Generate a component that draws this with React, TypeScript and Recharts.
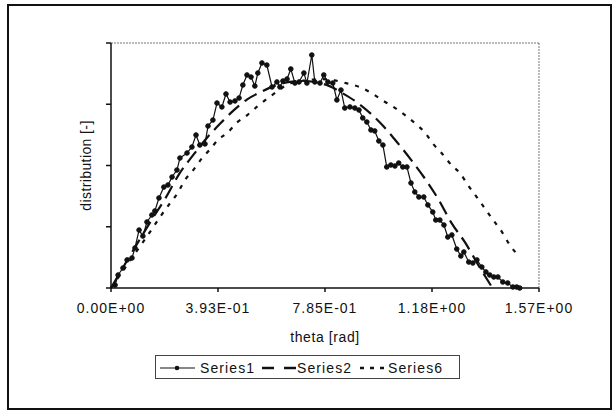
import React from 'react';
import {
  LineChart,
  Line,
  XAxis,
  YAxis,
  ReferenceLine,
} from 'recharts';

// measured angle (rad) and distribution for Series1
const series1Theta = [
  0.015, 0.026, 0.044, 0.059, 0.077, 0.088, 0.103, 0.117, 0.132, 0.15,
  0.161, 0.176, 0.194, 0.209, 0.224, 0.242, 0.253, 0.279, 0.297, 0.312,
  0.326, 0.345, 0.356, 0.374, 0.389, 0.407, 0.422, 0.437, 0.455, 0.47,
  0.484, 0.499, 0.514, 0.528, 0.539, 0.554, 0.572, 0.591, 0.609, 0.62,
  0.631, 0.646, 0.66, 0.675, 0.69, 0.708, 0.719, 0.737, 0.748, 0.767,
  0.781, 0.796, 0.814, 0.829, 0.844, 0.858, 0.877, 0.895, 0.91, 0.924,
  0.939, 0.954, 0.968, 0.983, 0.998, 1.012, 1.027, 1.042, 1.056, 1.071,
  1.086, 1.101, 1.115, 1.13, 1.148, 1.163, 1.181, 1.192, 1.207, 1.222,
  1.236, 1.251, 1.269, 1.284, 1.295, 1.313, 1.328, 1.343, 1.361, 1.376,
  1.39, 1.405, 1.42, 1.438, 1.456, 1.475, 1.489, 1.5,
];
const series1Values = [
  0.024, 0.106, 0.163, 0.229, 0.245, 0.327, 0.473, 0.424, 0.539, 0.596,
  0.629, 0.735, 0.824, 0.841, 0.906, 0.963, 1.061, 1.102, 1.151, 1.249,
  1.167, 1.176, 1.322, 1.371, 1.51, 1.478, 1.584, 1.518, 1.527, 1.551,
  1.657, 1.739, 1.722, 1.649, 1.755, 1.837, 1.82, 1.641, 1.682, 1.641,
  1.69, 1.706, 1.788, 1.673, 1.682, 1.755, 1.673, 1.902, 1.682, 1.673,
  1.739, 1.682, 1.673, 1.535, 1.616, 1.469, 1.478, 1.469, 1.453, 1.388,
  1.355, 1.29, 1.282, 1.2, 1.167, 0.988, 1.004, 0.996, 1.02, 0.988,
  0.988, 0.857, 0.784, 0.743, 0.743, 0.678, 0.62, 0.555, 0.555, 0.514,
  0.416, 0.433, 0.318, 0.261, 0.294, 0.212, 0.204, 0.229, 0.171, 0.131,
  0.106, 0.09, 0.09, 0.049, 0.041, 0.008, 0.008, 0,
];

// model curves
const series2Theta = [
  0, 0.05, 0.1, 0.15, 0.2, 0.25, 0.3, 0.35, 0.4, 0.45, 0.5, 0.55, 0.6, 0.65,
  0.7, 0.75, 0.8, 0.85, 0.9, 0.95, 1.0, 1.05, 1.1, 1.15, 1.2, 1.25, 1.3,
  1.35, 1.4,
];
const series2Values = [
  0, 0.19, 0.377, 0.559, 0.734, 0.93, 1.08, 1.22, 1.34, 1.45, 1.54, 1.6,
  1.65, 1.68, 1.69, 1.68, 1.65, 1.59, 1.52, 1.43, 1.32, 1.19, 1.05, 0.9,
  0.73, 0.53, 0.37, 0.18, 0,
];

const series6Theta = [
  0, 0.05, 0.1, 0.15, 0.18, 0.216, 0.246, 0.271, 0.301, 0.334, 0.363, 0.393,
  0.429, 0.462, 0.499, 0.536, 0.576, 0.62, 0.646, 0.7, 0.77, 0.82, 0.866,
  0.913, 0.957, 0.998, 1.042, 1.086, 1.123, 1.152, 1.181, 1.214, 1.251,
  1.28, 1.31, 1.343, 1.372, 1.401, 1.434, 1.464, 1.493,
];
const series6Values = [
  0, 0.16, 0.32, 0.48, 0.58, 0.69, 0.78, 0.88, 0.96, 1.06, 1.13, 1.21,
  1.27, 1.35, 1.41, 1.48, 1.55, 1.62, 1.66, 1.69, 1.705, 1.695, 1.67,
  1.64, 1.59, 1.53, 1.47, 1.4, 1.33, 1.27, 1.18, 1.1, 1.0, 0.94, 0.84,
  0.74, 0.65, 0.56, 0.46, 0.35, 0.27,
];

const xTicks = [0, 0.3927, 0.7854, 1.1781, 1.5708];
const yTicks = [0, 0.5, 1, 1.5, 2];

const toRows = (xs: number[], ys: number[]) =>
  xs.map((theta, i) => ({ theta, value: ys[i] }));

const series1 = toRows(series1Theta, series1Values);
const series2 = toRows(series2Theta, series2Values);
const series6 = toRows(series6Theta, series6Values);

const FONT = '"Liberation Sans", Arial, sans-serif';

// 0.3927 -> "3.93E-01"
const sci = (v: number) => {
  const [m, e] = v.toExponential(2).split('e');
  const n = parseInt(e, 10);
  const sign = n < 0 ? '-' : '+';
  return `${m}E${sign}${String(Math.abs(n)).padStart(2, '0')}`;
};

function ChartLegend() {
  return (
    <div
      style={{
        position: 'absolute',
        left: 155,
        top: 355,
        width: 305,
        height: 24,
        border: '1px solid #444',
        boxSizing: 'border-box',
      }}
    >
      <svg width={305} height={24} style={{ display: 'block' }}>
        <g fontFamily={FONT} fontSize={14} fill="#111" letterSpacing={1.1}>
          <line x1={4} y1={12} x2={39} y2={12} stroke="#111" strokeWidth={1.2} />
          <circle cx={21} cy={12} r={2.3} fill="#111" />
          <text x={44} y={17}>Series1</text>
          <line
            x1={106}
            y1={12}
            x2={140}
            y2={12}
            stroke="#111"
            strokeWidth={2.4}
            strokeDasharray="12 10"
          />
          <text x={141} y={17}>Series2</text>
          <line
            x1={204}
            y1={12}
            x2={228}
            y2={12}
            stroke="#111"
            strokeWidth={2.4}
            strokeDasharray="4 6"
          />
          <text x={232} y={17}>Series6</text>
        </g>
      </svg>
    </div>
  );
}

export default function App() {
  return (
    <div
      style={{
        position: 'absolute',
        left: 0,
        top: 0,
        width: 614,
        height: 414,
        background: '#fff',
      }}
    >
      <div
        style={{
          position: 'absolute',
          left: 7,
          top: 4,
          width: 605,
          height: 406,
          border: '2px solid #111',
          boxSizing: 'border-box',
        }}
      />
      <div style={{ position: 'absolute', left: 0, top: 0 }}>
        <LineChart
          width={614}
          height={414}
          margin={{ top: 43, right: 75, left: 0, bottom: 66 }}
        >
          <XAxis
            type="number"
            dataKey="theta"
            domain={[0, 1.5708]}
            ticks={xTicks}
            tickFormatter={sci}
            stroke="#111"
            strokeWidth={1.5}
            tickSize={4}
            tickMargin={11}
            height={60}
            tick={{ fill: '#111', fontSize: 14, fontFamily: FONT, letterSpacing: 1 }}
            label={{
              value: 'theta [rad]',
              position: 'insideBottom',
              offset: 6,
              fill: '#111',
              fontSize: 14,
              fontFamily: FONT,
              letterSpacing: 0.6,
            }}
          />
          <YAxis
            type="number"
            dataKey="value"
            domain={[0, 2]}
            ticks={yTicks}
            tickFormatter={() => ''}
            width={111}
            stroke="#111"
            strokeWidth={1.5}
            tickSize={5}
            label={{
              value: 'distribution [-]',
              angle: -90,
              position: 'center',
              dx: 31,
              fill: '#111',
              fontSize: 14,
              fontFamily: FONT,
              letterSpacing: 0.4,
            }}
          />
          {/* plot area frame on top and right */}
          <ReferenceLine y={2} stroke="#777" strokeDasharray="2 1" />
          <ReferenceLine x={1.5708} stroke="#777" strokeDasharray="2 1" />
          <Line
            data={series6}
            dataKey="value"
            type="monotone"
            stroke="#111"
            strokeWidth={2.2}
            strokeDasharray="4 7"
            dot={false}
            isAnimationActive={false}
          />
          <Line
            data={series2}
            dataKey="value"
            type="monotone"
            stroke="#111"
            strokeWidth={2.2}
            strokeDasharray="14 7"
            dot={false}
            isAnimationActive={false}
          />
          <Line
            data={series1}
            dataKey="value"
            type="linear"
            stroke="#111"
            strokeWidth={1.2}
            dot={{ r: 2.3, fill: '#111', stroke: '#111', strokeWidth: 1 }}
            isAnimationActive={false}
          />
        </LineChart>
      </div>
      <ChartLegend />
    </div>
  );
}
